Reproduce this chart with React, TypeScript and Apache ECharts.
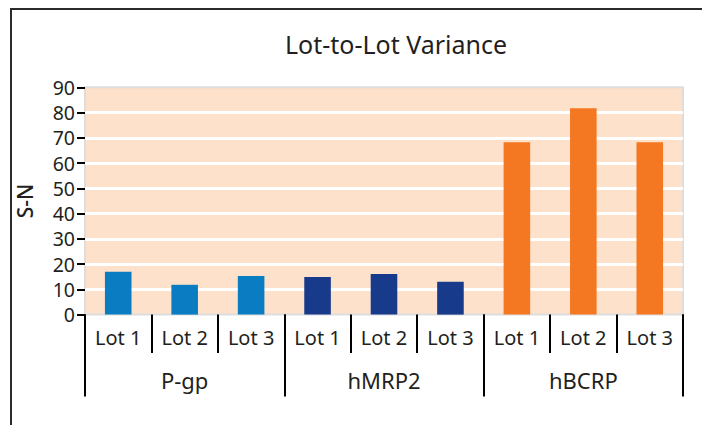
import React, { useEffect, useRef } from "react";
import * as echarts from "echarts";

const title = "Lot-to-Lot Variance";
const yName = "S-N";
const groups = ["P-gp", "hMRP2", "hBCRP"];
const lots = ["Lot 1", "Lot 2", "Lot 3"];
const pgpValues = [17.0, 11.8, 15.3];
const hmrp2Values = [14.9, 16.1, 13.0];
const hbcrpValues = [68.2, 81.7, 68.2];
const groupColors = ["#0A7CC1", "#173A8A", "#F47721"];
const yTicks = [0, 10, 20, 30, 40, 50, 60, 70, 80, 90];

const FONT = "'Noto Sans', 'Open Sans', sans-serif";

export default function App() {
  const ref = useRef<HTMLDivElement>(null);
  useEffect(() => {
    if (!ref.current) return;
    const chart = echarts.init(ref.current, undefined, { renderer: "svg" });
    const groupValues = [pgpValues, hmrp2Values, hbcrpValues];
    const categories: string[] = [];
    const data: any[] = [];
    groups.forEach((g, gi) => {
      lots.forEach((l, li) => {
        categories.push(l);
        data.push({ value: groupValues[gi][li], itemStyle: { color: groupColors[gi] } });
      });
    });
    chart.setOption({
      animation: false,
      title: {
        text: title,
        left: 391,
        top: 26,
        textAlign: "center",
        textStyle: { fontFamily: FONT, fontSize: 25, fontWeight: "normal", color: "#231F20" },
      },
      grid: {
        left: 85,
        right: 19,
        top: 87.3,
        bottom: 110.4,
        show: true,
        backgroundColor: "#FDE1CB",
        borderColor: "#DDDDDD",
        borderWidth: 2,
      },
      xAxis: [
        {
          type: "category",
          data: categories,
          position: "bottom",
          axisLine: { show: false },
          axisTick: { show: true, length: 38.5, lineStyle: { color: "#000", width: 2 } },
          axisLabel: { margin: 13, fontFamily: FONT, fontSize: 20, color: "#231F20", interval: 0 },
        },
        {
          type: "category",
          data: groups,
          position: "bottom",
          offset: 0,
          axisLine: { show: false },
          axisTick: { show: true, length: 82, lineStyle: { color: "#000", width: 2 } },
          axisLabel: { margin: 54, fontFamily: FONT, fontSize: 22, color: "#231F20", interval: 0 },
        },
      ],
      yAxis: {
        type: "value",
        min: yTicks[0],
        max: yTicks[yTicks.length - 1],
        interval: 10,
        name: yName,
        nameLocation: "middle",
        nameGap: 50,
        nameRotate: 90,
        nameTextStyle: { fontFamily: FONT, fontSize: 21, fontWeight: 500, color: "#231F20" },
        axisLine: { show: false },
        axisTick: { show: true, length: 8, lineStyle: { color: "#000", width: 2 } },
        axisLabel: { margin: 10, fontFamily: FONT, fontSize: 19.5, color: "#231F20" },
        splitLine: { show: true, showMinLine: false, showMaxLine: false, lineStyle: { color: "#FFFFFF", width: 3 } },
      },
      series: [
        {
          type: "bar",
          xAxisIndex: 0,
          data,
          barWidth: "40%",
        },
      ],
    });
    return () => chart.dispose();
  }, []);
  return (
    <div style={{ position: "absolute", left: 0, top: 0, width: 702, height: 425, overflow: "hidden" }}>
      <div
        style={{
          position: "absolute",
          left: 9.8,
          top: 8.3,
          width: 702,
          height: 430,
          borderLeft: "2.5px solid #2b2b2b",
          borderTop: "2.5px solid #2b2b2b",
          boxSizing: "border-box",
        }}
      />
      <div ref={ref} style={{ position: "absolute", left: 0, top: 0, width: 702, height: 425 }} />
    </div>
  );
}
